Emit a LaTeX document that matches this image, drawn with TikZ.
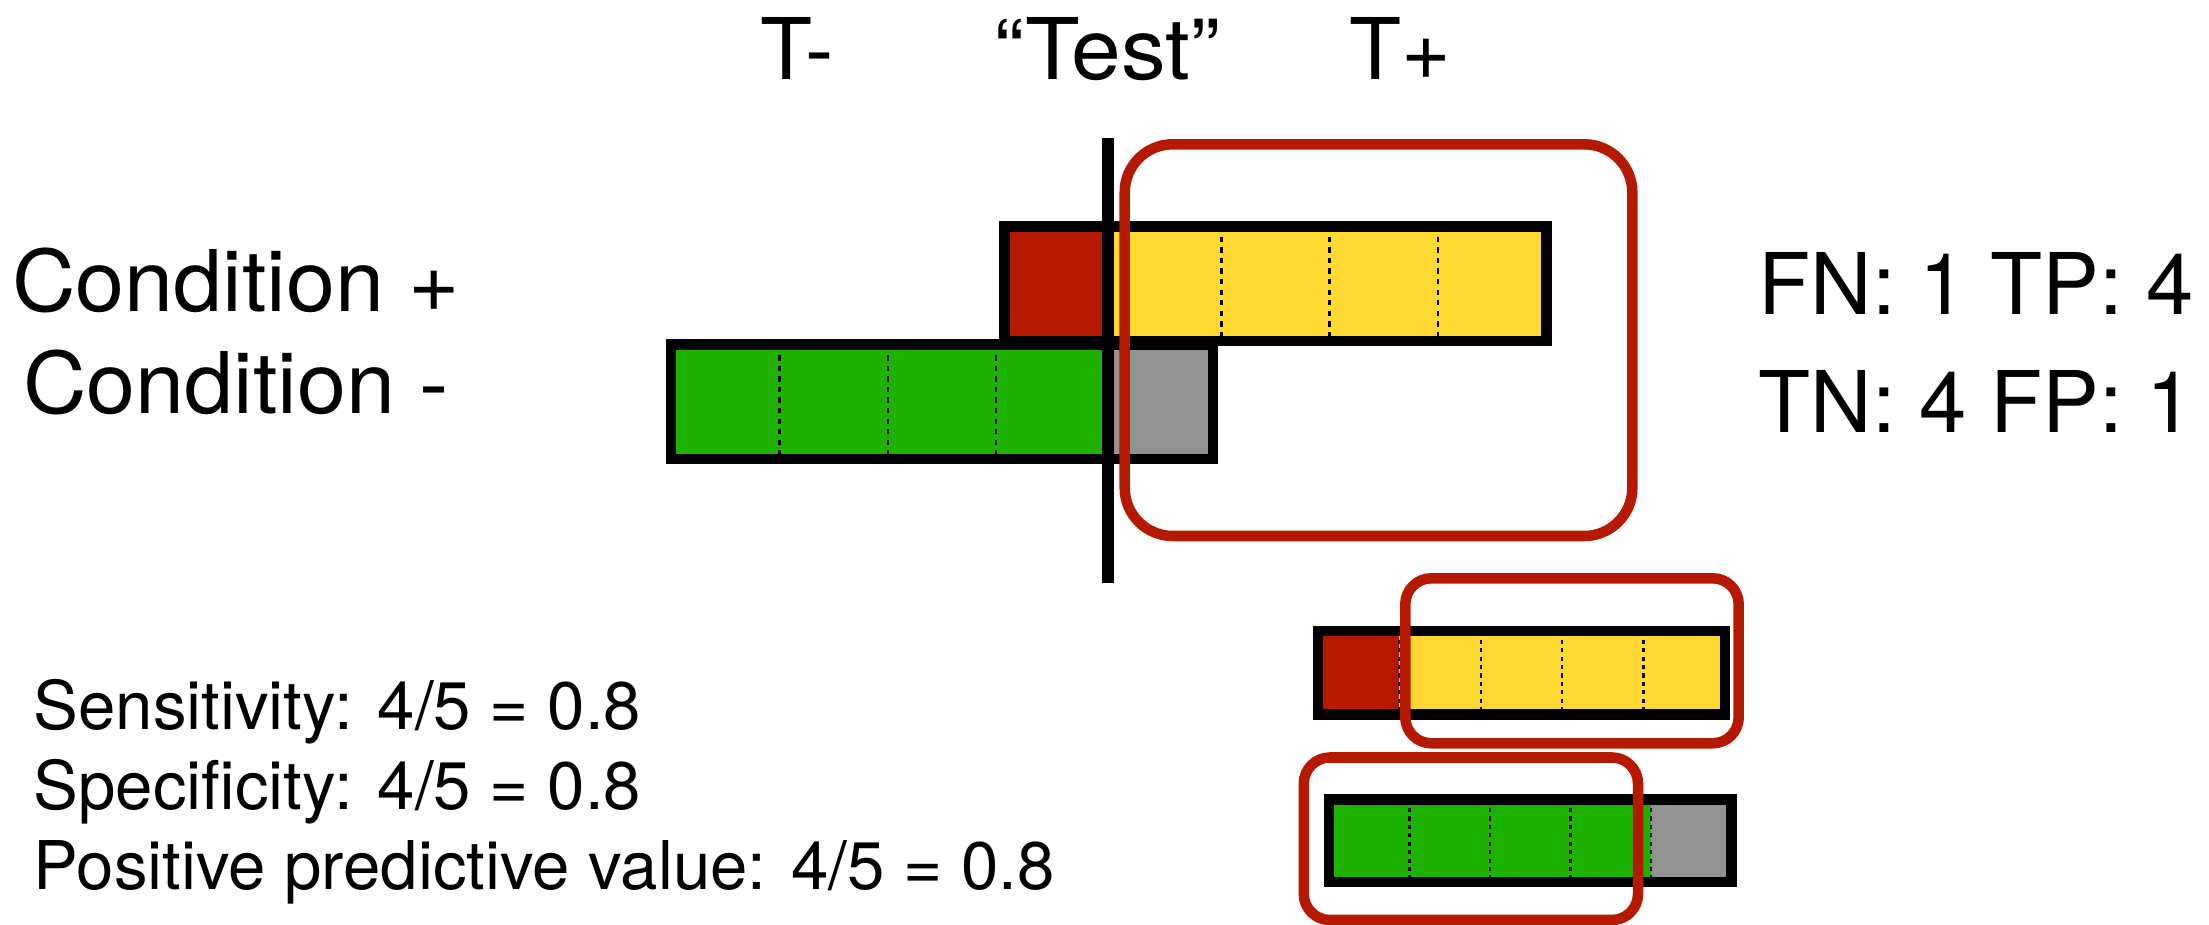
\documentclass[tikz,border=0pt]{standalone}
\usepackage{graphicx}
\usepackage{fontspec}
\setmainfont{TeX Gyre Heros}
\definecolor{kred}{HTML}{B51A00}
\definecolor{kyellow}{HTML}{FED931}
\definecolor{kgreen}{HTML}{1DB100}
\definecolor{kgrey}{HTML}{929292}
\tikzset{
  barline/.style={draw=black, line width=2.99pt},
  sepline/.style={draw=black, line width=0.7pt, dash pattern=on 1.5pt off 1.5pt},
  sepsmall/.style={draw=black, line width=0.7pt, dash pattern=on 1.2pt off 1.2pt},
  ring/.style={draw=kred, line width=2.99pt},
  bigtext/.style={font=\fontsize{24.2pt}{29pt}\selectfont, inner sep=0pt},
  smalltext/.style={font=\fontsize{19.1pt}{22pt}\selectfont, inner sep=0pt, anchor=base west},
}
\begin{document}
\begin{tikzpicture}[x=0.01cm,y=-0.01cm]
\useasboundingbox (0,0) rectangle (2209,925);

% ---- Condition + bar (top, large)
\fill[kred] (1004.5,226.3) rectangle (1112.9,341.2);
\fill[kyellow] (1112.9,226.3) rectangle (1546.5,341.2);
\foreach \i in {1,...,4}
  \draw[sepline] ({1004.5+\i*108.4},226.3) -- ({1004.5+\i*108.4},341.2);
\draw[barline] (1004.5,226.3) rectangle (1546.5,341.2);

% ---- Condition - bar (bottom, large)
\fill[kgreen] (671,344.7) rectangle (1104.6,458.8);
\fill[kgrey] (1104.6,344.7) rectangle (1213,458.8);
\foreach \i in {1,...,4}
  \draw[sepline] ({671+\i*108.4},344.7) -- ({671+\i*108.4},458.8);
\draw[barline] (671,344.7) rectangle (1213,458.8);

% ---- threshold line
\coordinate (lt) at (1107.8,138);
\coordinate (lb) at (1107.8,583);
\draw[line width=3.4pt] (lt) -- (lb);

% ---- small bars
\fill[kred] (1318,631.2) rectangle (1399.4,714.7);
\fill[kyellow] (1399.4,631.2) rectangle (1725,714.7);
\foreach \i in {1,...,4}
  \draw[sepsmall] ({1318+\i*81.4},631.2) -- ({1318+\i*81.4},714.7);
\draw[barline] (1318,631.2) rectangle (1725,714.7);

\fill[kgreen] (1329,799.5) rectangle (1651,882);
\fill[kgrey] (1651,799.5) rectangle (1731.7,882);
\foreach \i in {1,...,4}
  \draw[sepsmall] ({1329+\i*80.5},799.5) -- ({1329+\i*80.5},882);
\draw[barline] (1329,799.5) rectangle (1731.7,882);

% ---- red rings
\draw[ring, rounded corners=0.48cm] (1124.7,144.3) rectangle (1632.3,536);
\draw[ring, rounded corners=0.26cm] (1405.3,578.3) rectangle (1738.7,743.3);
\draw[ring, rounded corners=0.26cm] (1303.8,757.5) rectangle (1638,920);

% ---- texts
\node[bigtext, anchor=base] (tminus) at (797,80) {T-};
\node[bigtext, anchor=base] (test) at (1107.5,80) {\scalebox{1.05}[1]{“Test”}};
\node[bigtext, anchor=base] (tplus) at (1400,80) {T+};
\node[bigtext, anchor=base] (condp) at (236,312) {\scalebox{1.035}[1]{Condition +}};
\node[bigtext, anchor=base] (condm) at (236,414) {\scalebox{1.035}[1]{Condition -}};
\node[bigtext, anchor=base west] (fn) at (1758,315) {FN: 1 TP: 4};
\node[bigtext, anchor=base west] (tn) at (1758,433) {TN: 4 FP: 1};
\node[smalltext] (sens) at (33,729) {Sensitivity: 4/5 = 0.8};
\node[smalltext] (spec) at (33,809) {Specificity: 4/5 = 0.8};
\node[smalltext] (ppv) at (33,889) {Positive predictive value: 4/5 = 0.8};
\end{tikzpicture}
\end{document}
